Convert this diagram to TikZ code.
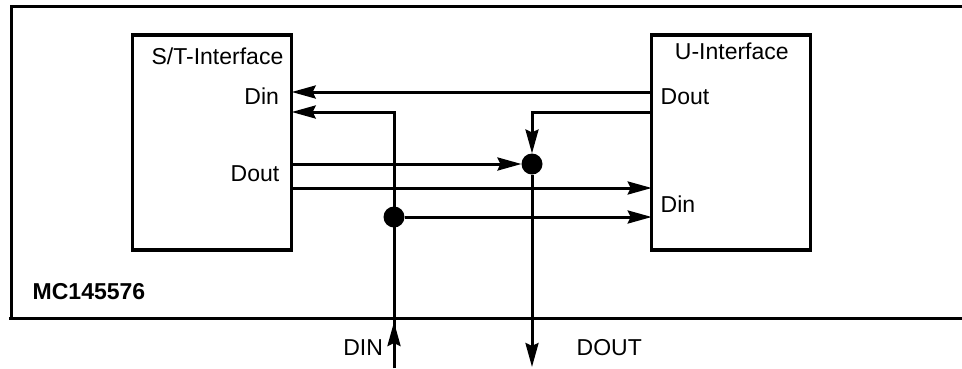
\documentclass[tikz,border=0pt]{standalone}
\usepackage{fontspec}
\setmainfont{Liberation Sans}
\usetikzlibrary{arrows.meta}

\begin{document}
\begin{tikzpicture}[x=1pt, y=-1pt,
  wire/.style={line width=3pt},
  frameline/.style={line width=3pt},
  block/.style={draw, line width=3.3pt, rectangle, inner sep=0pt, outer sep=0pt,
                minimum width=159pt, minimum height=215pt},
  junction/.style={circle, fill=black, inner sep=0pt, outer sep=0pt, minimum size=21pt},
  tip/.style={-{Stealth[length=24pt, width=13pt, inset=3pt]}},
  lbl/.style={inner sep=0pt, outer sep=0pt, font=\fontsize{23}{27}\selectfont},
  boldlbl/.style={lbl, font=\fontsize{23}{27}\selectfont\bfseries}
]
\useasboundingbox (0,0) rectangle (962,368);

% chip outline, open to the right
\coordinate (fTR) at (962,6.2);
\coordinate (fTL) at (11.3,6.2);
\coordinate (fBL) at (11.3,318);
\coordinate (fBR) at (962,318);
\draw[frameline] (fTR) -- (fTL) -- (fBL);
\draw[frameline] (9,318) coordinate (fB0) -- (fBR);

% interface blocks
\node[block] (st) at (212.2,142.5) {};
\node[block] (u)  at (731.2,142.5) {};

% block titles and pin names
\node[lbl, anchor=base east] (stTitle) at (283.3,64) {S/T-Interface};
\node[lbl, anchor=base east] (stDinL)  at (279,104) {Din};
\node[lbl, anchor=base east] (stDoutL) at (279.3,181.7) {Dout};
\node[lbl, anchor=base] (uTitle) at (731.8,59.3) {U-Interface};
\node[lbl, anchor=base west] (uDoutL) at (660.7,104) {Dout};
\node[lbl, anchor=base west] (uDinL)  at (660.7,212.7) {Din};
\node[boldlbl, anchor=base west] (chip) at (32.7,299) {MC145576};
\node[lbl, anchor=base west] (dinL)  at (343.3,355) {DIN};
\node[lbl, anchor=base west] (doutL) at (576.7,355) {DOUT};

% pin points on the blocks
\coordinate (stIn1)  at (st.east |- 0,92);
\coordinate (stIn2)  at (st.east |- 0,112);
\coordinate (stOut)  at (st.east |- 0,164);
\coordinate (stOut2) at (st.east |- 0,188);
\coordinate (uOut1)  at (u.west |- 0,92);
\coordinate (uOut2)  at (u.west |- 0,112);
\coordinate (uIn1)   at (u.west |- 0,188);
\coordinate (uIn2)   at (u.west |- 0,217);

% junction dots
\node[junction] (j1) at (532,164) {};
\node[junction] (j2) at (394,217) {};

% external pins
\coordinate (dinBot)  at (394,368);
\coordinate (dinTip)  at (394,322);
\coordinate (dinBend) at (394,112);
\coordinate (doutBend) at (532,112);
\coordinate (doutEnd)  at (532,367);

% U Dout -> S/T Din
\draw[wire, tip] (uOut1) -- (stIn1);
% DIN pin -> S/T Din
\draw[wire, tip] (dinBot) -- (dinBend) -- (stIn2);
\draw[wire, tip] (dinBot) -- (dinTip);
% U Dout -> junction -> DOUT pin
\draw[wire, tip] (uOut2) -- (doutBend) -- (j1.north);
\draw[wire, tip] (j1) -- (doutEnd);
% S/T Dout -> junction
\draw[wire, tip] (stOut) -- (j1.west);
% S/T Dout -> U Din
\draw[wire, tip] (stOut2) -- (uIn1);
% DIN junction -> U Din
\draw[wire, tip] (j2) -- (uIn2);
\end{tikzpicture}
\end{document}
